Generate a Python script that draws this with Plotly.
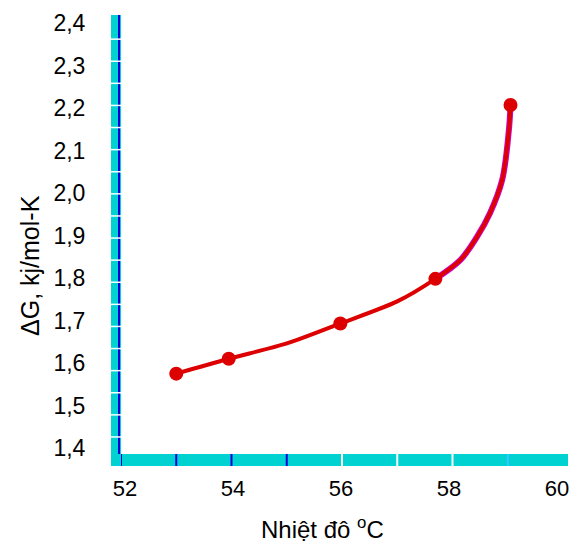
import plotly.graph_objects as go

# Data
marker_x = [53.0, 53.95, 55.97, 57.69, 59.05]
marker_y = [1.575, 1.610, 1.693, 1.798, 2.207]

curve_x = [53.0, 53.95, 55.0, 55.97, 57.0, 57.69, 58.14, 58.44, 58.68, 58.9, 59.02, 59.05]
curve_y = [1.575, 1.610, 1.646, 1.693, 1.745, 1.798, 1.842, 1.896, 1.953, 2.031, 2.148, 2.207]

x_ticks = [52, 54, 56, 58, 60]
y_ticks = [1.4, 1.5, 1.6, 1.7, 1.8, 1.9, 2.0, 2.1, 2.2, 2.3, 2.4]

x_title = "Nhiệt đô <sup>o</sup>C"
y_title = "ΔG, kj/mol-K"

CYAN = "#00d2d2"
RED = "#dd0000"
MAG = "#cc00cc"
BLUE = "#0000dd"

fig = go.Figure()
# magenta fringe on the steep part
fig.add_trace(go.Scatter(x=curve_x[5:], y=curve_y[5:], mode="lines",
                         line=dict(color=MAG, width=6, shape="spline"),
                         hoverinfo="skip", showlegend=False))
fig.add_trace(go.Scatter(x=curve_x, y=curve_y, mode="lines",
                         line=dict(color=RED, width=4, shape="spline", smoothing=0.8),
                         showlegend=False))
fig.add_trace(go.Scatter(x=marker_x, y=marker_y, mode="markers",
                         marker=dict(color=RED, size=14, symbol="circle"),
                         showlegend=False))
# empty trace that carries the tick-label axis (labels sit slightly off the bar marks)
fig.add_trace(go.Scatter(x=x_ticks, y=[None] * len(x_ticks), xaxis="x2",
                         mode="markers", hoverinfo="skip", showlegend=False))

shapes = []
# small extension of the horizontal bar past the plot's right edge
shapes.append(dict(type="line", xref="paper", yref="paper", xsizemode="pixel",
                   ysizemode="pixel", xanchor=1, yanchor=0, x0=0, x1=5,
                   y0=-6, y1=-6, line=dict(color=CYAN, width=12), layer="above"))
# dark-blue strip on the right of the vertical bar
shapes.append(dict(type="line", xref="paper", yref="paper", xsizemode="pixel",
                   xanchor=0, x0=-2, x1=-2, y0=0, y1=1,
                   line=dict(color=BLUE, width=2), layer="above"))
# white gaps in the vertical bar
for k in range(19):
    v = 2.362 - 0.052 * k
    shapes.append(dict(type="line", xref="paper", yref="y", xsizemode="pixel",
                       xanchor=0, x0=-11, x1=0, y0=v, y1=v,
                       line=dict(color="white", width=1.5), layer="above"))
# marks in the horizontal bar
for v in [52, 53, 54, 55]:
    shapes.append(dict(type="line", xref="x", yref="paper", ysizemode="pixel",
                       yanchor=0, y0=0, y1=-12, x0=v, x1=v,
                       line=dict(color=BLUE, width=2), layer="above"))
for v in [56, 57, 58]:
    shapes.append(dict(type="line", xref="x", yref="paper", ysizemode="pixel",
                       yanchor=0, y0=0, y1=-12, x0=v, x1=v,
                       line=dict(color="white", width=2), layer="above"))
shapes.append(dict(type="line", xref="x", yref="paper", ysizemode="pixel",
                   yanchor=0, y0=0, y1=-12, x0=59, x1=59,
                   line=dict(color="#30c8ff", width=2), layer="above"))

annotations = [
    dict(text=x_title, xref="paper", yref="paper", x=0.455, y=-0.1686,
         xanchor="center", yanchor="middle", showarrow=False,
         font=dict(size=24)),
    dict(text=y_title, xref="paper", yref="paper", x=-0.2059, y=0.4305,
         xanchor="center", yanchor="middle", showarrow=False, textangle=-90,
         font=dict(size=25)),
]

# page has an 8px body margin, so the figure is sized/offset to compensate
fig.update_layout(
    width=561, height=535,
    margin=dict(l=113, r=6, t=7, b=89),
    paper_bgcolor="white", plot_bgcolor="white",
    separators=", ",
    font=dict(family="Liberation Sans, Arial, sans-serif", size=20, color="#000000"),
    shapes=shapes,
    annotations=annotations,
    xaxis=dict(range=[52, 60], tickvals=x_ticks, showticklabels=False,
               showgrid=False, zeroline=False, showline=True,
               linecolor=CYAN, linewidth=12, ticks="", automargin=False),
    xaxis2=dict(range=[51.926, 60.111], overlaying="x", anchor="y", side="bottom",
                tickvals=x_ticks, tickformat="d",
                showgrid=False, zeroline=False, showline=False, ticks="",
                automargin=False, ticklabeloverflow="allow",
                tickfont=dict(size=22), ticklabelstandoff=19),
    yaxis=dict(range=[1.3859, 2.4188], tickvals=y_ticks, tickformat=".1f",
               showgrid=False, zeroline=False, showline=True,
               linecolor=CYAN, linewidth=10, ticks="", automargin=False,
               ticklabeloverflow="allow", tickfont=dict(size=23),
               ticklabelstandoff=21),
)

fig.write_html("out.html")
